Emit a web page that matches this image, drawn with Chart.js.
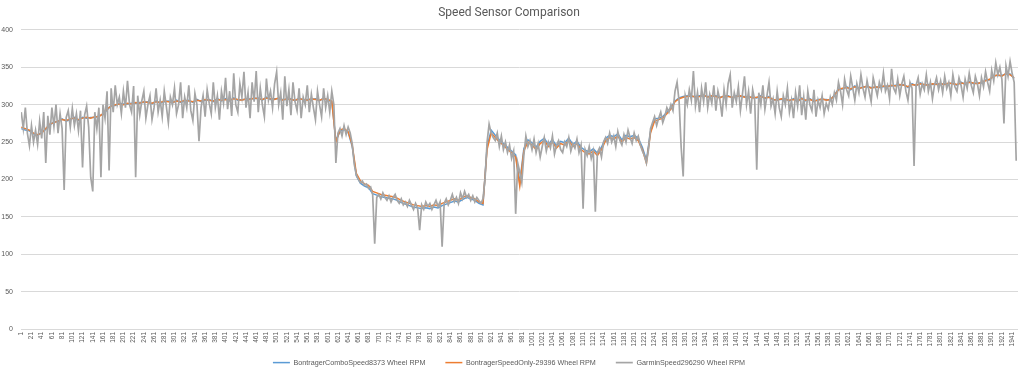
<!DOCTYPE html>
<html>
<head>
<meta charset="utf-8">
<script src="https://cdn.jsdelivr.net/npm/chart.js@4.4.1/dist/chart.umd.min.js"></script>
<style>
  html, body { margin: 0; padding: 0; background: #ffffff; }
  #wrap { width: 1024px; height: 373px; }
</style>
</head>
<body>
<div id="wrap"><canvas id="c" width="1024" height="373"></canvas></div>
<script>
// ---- DATA ----
const chartTitle = "Speed Sensor Comparison";
const seriesNames = ["BontragerComboSpeed8373 Wheel RPM", "BontragerSpeedOnly-29396 Wheel RPM", "GarminSpeed296290 Wheel RPM"];
const sampleCount = 1952;           // number of samples (categories)
const graySampleStep = 4;           // Garmin values given every 4th sample, starting at sample 1
const bontragerSampleStep = 8;      // Bontrager values given every 8th sample, starting at sample 1

const xTickLabels = [1,21,41,61,81,101,121,141,161,181,201,221,241,261,281,301,321,341,361,381,401,421,441,461,481,501,521,541,561,581,601,621,641,661,681,701,721,741,761,781,801,821,841,861,881,901,921,941,961,981,1001,1021,1041,1061,1081,1101,1121,1141,1161,1181,1201,1221,1241,1261,1281,1301,1321,1341,1361,1381,1401,1421,1441,1461,1481,1501,1521,1541,1561,1581,1601,1621,1641,1661,1681,1701,1721,1741,1761,1781,1801,1821,1841,1861,1881,1901,1921,1941];

const comboSpeed = [
268,266,265,261,259,263,267,273,277,277,281,278,280,283,279,283,282,283,283,285,287,293,299,299,302,
301,301,302,302,303,303,304,301,305,302,304,305,302,306,303,305,306,303,307,304,306,307,304,308,305,
308,305,309,306,307,307,308,308,309,306,310,307,308,308,307,307,308,305,309,306,307,307,308,305,309,
306,304,252,264,267,263,244,205,195,191,189,181,179,177,176,175,174,172,169,167,165,163,162,161,162,
161,163,162,165,167,169,171,170,173,176,174,172,168,166,244,266,259,253,248,243,238,233,195,241,253,
249,243,251,255,247,253,245,251,249,255,247,251,243,239,237,241,235,243,255,259,257,261,253,259,257,
259,255,243,226,264,281,282,284,290,296,305,309,311,312,311,311,312,312,311,311,312,310,311,312,309,
312,311,311,310,310,309,312,308,311,306,307,307,308,305,308,304,309,305,308,304,307,307,307,306,313,
321,321,324,320,325,321,324,324,323,323,324,324,325,325,326,326,327,323,328,325,329,326,327,327,328,
327,328,328,329,326,330,327,331,328,329,329,333,333,339,339,339,341,341,335
];

const speedOnly = [
270,268,266,262,260,262,268,274,276,278,280,279,281,282,280,282,283,282,284,284,288,294,298,300,301,
300,302,301,303,302,304,303,302,304,303,305,304,303,305,304,306,305,304,306,305,307,306,305,307,306,
307,306,308,307,306,308,307,309,308,307,309,308,307,309,306,308,307,306,308,307,306,308,307,306,308,
307,305,250,266,268,264,246,208,198,194,192,184,182,180,179,178,177,175,172,170,168,166,165,164,165,
164,166,165,168,170,172,174,172,176,178,176,174,170,168,240,262,256,250,246,240,236,230,191,238,250,
246,240,248,252,244,250,242,248,246,252,244,248,240,236,234,238,232,240,252,256,254,258,250,256,254,
256,252,240,222,262,278,280,282,288,294,304,308,310,311,312,310,311,313,310,312,311,309,312,311,310,
311,312,310,311,309,310,311,309,310,307,306,308,307,306,307,305,308,306,307,305,306,308,306,307,312,
320,322,323,321,324,322,323,325,322,324,323,325,324,326,325,327,326,324,327,326,328,327,326,328,327,
328,327,329,328,327,329,328,330,329,328,330,332,334,338,340,338,342,340,336
];

const garminSpeed = [
290,268,296,262,245,272,250,266,247,278,255,290,222,285,260,296,271,300,262,288,268,186,283,292,270,
295,272,288,265,292,216,286,298,270,203,184,290,268,296,203,300,282,318,212,322,290,326,300,310,288,
318,296,332,300,290,325,203,312,286,305,318,282,300,312,280,296,322,290,306,284,318,298,276,310,300,
322,288,300,330,282,310,296,326,292,279,315,300,251,296,312,284,320,302,288,330,296,312,280,318,302,
336,294,318,285,342,300,290,328,310,344,296,316,282,330,304,345,290,322,300,284,335,306,318,296,328,
344,300,316,280,338,298,320,286,330,304,292,322,282,310,300,326,290,314,296,280,318,300,284,322,296,
312,290,318,300,222,262,268,258,272,260,270,262,248,220,206,200,196,198,192,194,188,190,180,114,176,
180,174,182,176,172,178,170,176,180,172,168,174,166,170,164,172,166,160,168,162,132,166,160,170,164,
168,160,166,172,164,170,110,168,174,166,172,180,170,176,168,182,174,184,176,180,172,178,170,176,172,
168,174,200,250,274,262,256,252,262,244,258,240,250,236,246,228,238,154,222,210,196,232,258,244,252,
240,254,236,248,230,244,256,238,250,242,258,234,246,252,240,236,250,244,256,238,248,242,254,236,246,
161,240,232,244,228,238,157,236,242,230,250,256,248,262,250,258,244,264,252,246,260,250,266,256,248,
262,252,258,246,238,232,222,240,268,276,284,272,282,290,276,284,296,290,300,292,318,330,304,243,204,
312,300,320,306,345,298,316,290,322,304,330,296,314,302,326,292,318,306,284,320,300,328,340,296,316,
304,324,292,314,338,300,318,288,320,306,213,316,300,326,294,312,330,298,308,288,318,296,284,312,300,
322,290,306,282,316,298,326,286,310,280,318,300,292,320,284,306,296,312,288,302,294,310,300,316,306,
330,318,300,334,320,312,338,322,306,328,316,340,322,310,332,318,304,336,324,312,330,320,342,318,326,
308,348,322,316,334,312,328,338,318,306,330,322,218,326,336,314,328,320,340,318,330,308,326,336,320,
332,316,338,322,330,312,340,324,318,336,326,310,334,322,342,326,316,338,328,312,336,324,344,330,318,
346,332,356,340,350,334,275,352,338,358,342,330,225
];

const yMin = 0, yMax = 400, yStep = 50;
const colors = ["#5B9BD5", "#ED7D31", "#A5A5A5"];

// ---- build datasets from the arrays ----
function toPoints(values, step) {
  return values.map((v, k) => ({ x: 1 + k * step, y: v }));
}

// let the rotated x labels draw below the (thin) x-axis box without being clipped
const labelRoomPlugin = {
  id: 'labelRoom',
  afterLayout(chart) {
    const xs = chart.scales.x;
    if (xs) { xs.bottom = chart.height; }
  }
};

const ctx = document.getElementById('c').getContext('2d');
new Chart(ctx, {
  type: 'line',
  data: {
    datasets: [
      { label: seriesNames[0], data: toPoints(comboSpeed, bontragerSampleStep), borderColor: colors[0], backgroundColor: colors[0], borderWidth: 1.5, order: 2 },
      { label: seriesNames[1], data: toPoints(speedOnly, bontragerSampleStep), borderColor: colors[1], backgroundColor: colors[1], borderWidth: 1.5, order: 1 },
      { label: seriesNames[2], data: toPoints(garminSpeed, graySampleStep), borderColor: colors[2], backgroundColor: colors[2], borderWidth: 1.7, order: 0 }
    ]
  },
  plugins: [labelRoomPlugin],
  options: {
    responsive: false,
    animation: false,
    devicePixelRatio: 1,
    elements: { point: { radius: 0 }, line: { tension: 0 } },
    layout: { padding: { left: 0, right: 6, top: 0, bottom: 0 } },
    plugins: {
      title: {
        display: true,
        text: chartTitle,
        color: '#595959',
        font: { family: 'Roboto, "Liberation Sans", sans-serif', size: 12, weight: 'normal' },
        padding: { top: 6, bottom: 9.5 }
      },
      legend: {
        position: 'bottom',
        maxHeight: 34,
        labels: {
          sort: (a, b) => a.datasetIndex - b.datasetIndex,
          color: '#595959',
          font: { family: '"Liberation Sans", Arial, sans-serif', size: 7.2 },
          usePointStyle: true,
          pointStyle: 'line',
          pointStyleWidth: 17,
          padding: 20
        }
      },
      tooltip: { enabled: false }
    },
    scales: {
      x: {
        type: 'linear',
        min: 0.5,
        max: sampleCount + 0.5,
        afterBuildTicks: (scale) => { scale.ticks = xTickLabels.map(v => ({ value: v })); },
        afterFit: (scale) => { scale.height = 10; },
        grid: { display: false, drawTicks: false },
        border: { display: false },
        ticks: {
          autoSkip: false,
          minRotation: 90,
          maxRotation: 90,
          padding: 3,
          color: '#595959',
          font: { family: '"Liberation Sans", Arial, sans-serif', size: 6.5 },
          callback: (v) => String(v)
        }
      },
      y: {
        min: yMin,
        max: yMax,
        afterFit: (scale) => { scale.width = 21; },
        grid: { color: '#D9D9D9', lineWidth: 1, drawTicks: false },
        border: { display: false },
        ticks: {
          stepSize: yStep,
          padding: 8,
          color: '#595959',
          font: { family: '"Liberation Sans", Arial, sans-serif', size: 7 }
        }
      }
    }
  }
});
</script>
</body>
</html>
